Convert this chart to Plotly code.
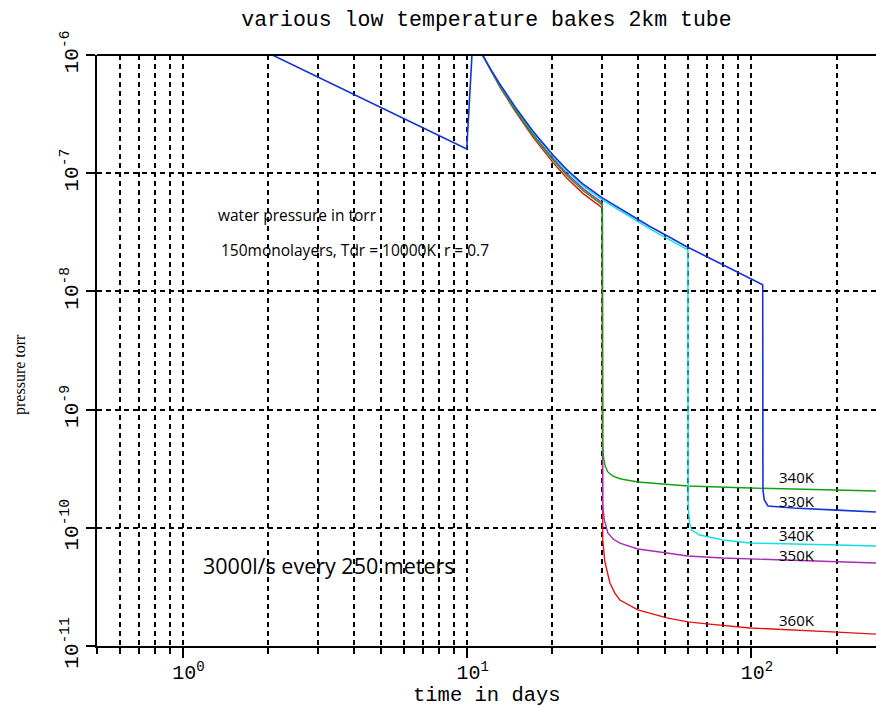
import plotly.graph_objects as go

# ---------------- data ----------------
# first pump-down sawtooth (only the blue curve is visible there)
SAW_DAYS = [2.07, 10.0, 10.6]
SAW_BLUE = [1.0e-6, 1.6e-7, 2.0e-6]

# shared decay after the 10-day bake, up to the 30-day bake
DECAY_DAYS = [11.36, 12.21, 13.07, 14.76, 17.08, 20.08, 22.49, 25.61, 30.0]
DECAY_BLUE = [1.0e-6, 7.38e-7, 5.68e-7, 3.67e-7, 2.28e-7, 1.43e-7, 1.075e-7, 8.12e-8, 6.18e-8]
DECAY_CYAN = [1.0e-6, 7.35e-7, 5.62e-7, 3.61e-7, 2.24e-7, 1.394e-7, 1.044e-7, 7.84e-8, 5.95e-8]
DECAY_GREEN = [1.0e-6, 7.28e-7, 5.46e-7, 3.48e-7, 2.11e-7, 1.297e-7, 9.6e-8, 7.15e-8, 5.39e-8]
DECAY_MAGENTA = [1.0e-6, 7.31e-7, 5.52e-7, 3.53e-7, 2.15e-7, 1.336e-7, 9.94e-8, 7.44e-8, 5.61e-8]
DECAY_RED = [1.0e-6, 7.24e-7, 5.36e-7, 3.39e-7, 2.03e-7, 1.235e-7, 9.1e-8, 6.75e-8, 5.09e-8]

# bake at 30 days
GREEN_DAYS = [30.05, 30.3, 30.7, 31.37, 32.67, 34.85, 40.0, 50.6, 60.0, 99.2, 200.8, 275.5]
GREEN_P = [5.02e-10, 3.9e-10, 3.33e-10, 2.97e-10, 2.74e-10, 2.59e-10, 2.44e-10, 2.35e-10,
           2.26e-10, 2.17e-10, 2.09e-10, 2.05e-10]

MAGENTA_DAYS = [30.05, 30.5, 31.37, 32.8, 34.57, 40.0, 50.6, 60.0, 79.7, 99.2, 200.8, 275.5]
MAGENTA_P = [1.56e-10, 1.16e-10, 9.04e-11, 8.0e-11, 7.43e-11, 6.62e-11, 6.12e-11, 5.77e-11,
             5.55e-11, 5.45e-11, 5.13e-11, 5.03e-11]

RED_DAYS = [30.1, 30.6, 31.9, 33.2, 34.57, 36.6, 40.0, 50.6, 60.0, 70.0, 99.2, 200.8, 275.5]
RED_P = [7.88e-11, 5.2e-11, 3.41e-11, 2.8e-11, 2.45e-11, 2.26e-11, 2.02e-11, 1.73e-11, 1.60e-11,
         1.54e-11, 1.42e-11, 1.31e-11, 1.26e-11]

# cyan: decay continues to the 60-day bake
CYAN_DAYS = [36.0, 44.1, 51.4, 60.0, 60.1, 60.75, 61.8, 66.1, 79.7, 99.2, 200.8, 275.5]
CYAN_P = [4.55e-8, 3.38e-8, 2.76e-8, 2.24e-8, 1.56e-10, 1.12e-10, 9.57e-11, 8.69e-11, 7.88e-11,
          7.43e-11, 7.15e-11, 7.01e-11]

# blue: decay continues to the 110-day bake
BLUE_DAYS = [36.0, 44.1, 51.4, 59.0, 72.3, 87.8, 110.0, 110.2, 111.4, 114.8, 140.6, 200.8, 275.5]
BLUE_P = [4.74e-8, 3.54e-8, 2.9e-8, 2.41e-8, 1.89e-8, 1.49e-8, 1.14e-8, 2.09e-10, 1.72e-10,
          1.53e-10, 1.47e-10, 1.41e-10, 1.36e-10]

X_MAJOR = [1, 10, 100]
X_MAJOR_TEXT = ["10<sup>0</sup>", "10<sup>1</sup>", "10<sup>2</sup>"]
X_MINOR = [0.5, 0.6, 0.7, 0.8, 0.9, 2, 3, 4, 5, 6, 7, 8, 9, 20, 30, 40, 50, 60, 70, 80, 90, 200]
Y_MAJOR = [1e-6, 1e-7, 1e-8, 1e-9, 1e-10, 1e-11]
Y_MAJOR_TEXT = ["10<sup>-6</sup>", "10<sup>-7</sup>", "10<sup>-8</sup>",
                "10<sup>-9</sup>", "10<sup>-10</sup>", "10<sup>-11</sup>"]

LABELS = ["340K", "330K", "340K", "350K", "360K"]

# ---------------- figure ----------------
RED = "#e81010"
MAGENTA = "#a82ab8"
GREEN = "#12a012"
CYAN = "#10e0e0"
BLUE = "#1434d8"
LW = 1.4

fig = go.Figure()


def add(xs, ys, color, width=LW):
    fig.add_trace(go.Scatter(x=xs, y=ys, mode="lines",
                             line=dict(color=color, width=width),
                             showlegend=False, hoverinfo="skip"))


add(DECAY_DAYS + RED_DAYS, DECAY_RED + RED_P, RED)
add(DECAY_DAYS + MAGENTA_DAYS, DECAY_MAGENTA + MAGENTA_P, MAGENTA)
add(DECAY_DAYS + GREEN_DAYS, DECAY_GREEN + GREEN_P, GREEN)
add(DECAY_DAYS + CYAN_DAYS, DECAY_CYAN + CYAN_P, CYAN)
add(SAW_DAYS + DECAY_DAYS + BLUE_DAYS, SAW_BLUE + DECAY_BLUE + BLUE_P, BLUE, 1.6)

MONO = "Liberation Mono"
SANS = "Open Sans"
GRID_DASH = "5px,4px"

fig.update_layout(
    width=876, height=708,
    margin=dict(l=97, r=0, t=55, b=62, pad=0),
    paper_bgcolor="white", plot_bgcolor="white",
    title=dict(text="various low temperature bakes 2km tube",
               font=dict(family=MONO, size=21.5, color="black"),
               x=0.5, xref="paper", xanchor="center",
               y=1 - 18 / 708, yref="container", yanchor="middle"),
    xaxis=dict(
        type="log", range=[-0.30103, 2.44],
        showline=True, linecolor="black", linewidth=2,
        ticks="outside", ticklen=10, tickwidth=2, tickcolor="black",
        tickvals=X_MAJOR, ticktext=X_MAJOR_TEXT,
        tickfont=dict(family=MONO, size=20, color="black"),
        ticklabelshift=6, ticklabelstandoff=-3,
        showgrid=True, gridcolor="black", gridwidth=2, griddash=GRID_DASH,
        minor=dict(tickvals=X_MINOR, ticks="outside", ticklen=6, tickwidth=2,
                   tickcolor="black", showgrid=True, gridcolor="black",
                   gridwidth=2, griddash=GRID_DASH),
        zeroline=False,
    ),
    yaxis=dict(
        type="log", range=[-11, -6],
        showline=True, linecolor="black", linewidth=2,
        ticks="outside", ticklen=9, tickwidth=2, tickcolor="black",
        tickvals=Y_MAJOR, ticktext=Y_MAJOR_TEXT, tickangle=-90,
        tickfont=dict(family=MONO, size=21, color="black"),
        showgrid=True, gridcolor="black", gridwidth=2, griddash=GRID_DASH,
        zeroline=False,
    ),
)

# solid frame line at the top
fig.add_shape(type="line", xref="paper", yref="paper", x0=0, x1=1, y0=1, y1=1,
              line=dict(color="black", width=2))

# axis titles
fig.add_annotation(text="time in days", xref="paper", yref="paper",
                   x=0.5, y=(646 - 695) / 591, xanchor="center", yanchor="middle",
                   showarrow=False, font=dict(family=MONO, size=20.5, color="black"))
fig.add_annotation(text="pressure torr", xref="paper", yref="paper",
                   x=(20 - 97) / 779, y=(646 - 375) / 591, textangle=-90,
                   xanchor="center", yanchor="middle", showarrow=False,
                   font=dict(family="Liberation Serif", size=16, color="black"))

# text annotations
fig.add_annotation(text="water pressure in torr", xref="paper", yref="paper",
                   x=(216 - 97) / 779, y=(646 - 215) / 591, xanchor="left",
                   yanchor="middle", showarrow=False,
                   font=dict(family=SANS, size=15.5, color="black"))
fig.add_annotation(text="150monolayers, Tdr = 10000K&nbsp; r = 0.7", xref="paper", yref="paper",
                   x=(219 - 97) / 779, y=(646 - 250) / 591, xanchor="left",
                   yanchor="middle", showarrow=False,
                   font=dict(family=SANS, size=15.5, color="black"))
fig.add_annotation(text="3000l/s every 250 meters", xref="paper", yref="paper",
                   x=(201 - 97) / 779, y=(646 - 565) / 591, xanchor="left",
                   yanchor="middle", showarrow=False,
                   font=dict(family=SANS, size=21.5, color="black"))

label_y_px = [477, 501, 535, 555, 620]
for lab, py in zip(LABELS, label_y_px):
    fig.add_annotation(text=lab, xref="paper", yref="paper",
                       x=(777 - 97) / 779, y=(646 - py) / 591, xanchor="left",
                       yanchor="middle", showarrow=False,
                       font=dict(family=SANS, size=15, color="black"))

fig.write_html("out.html")
